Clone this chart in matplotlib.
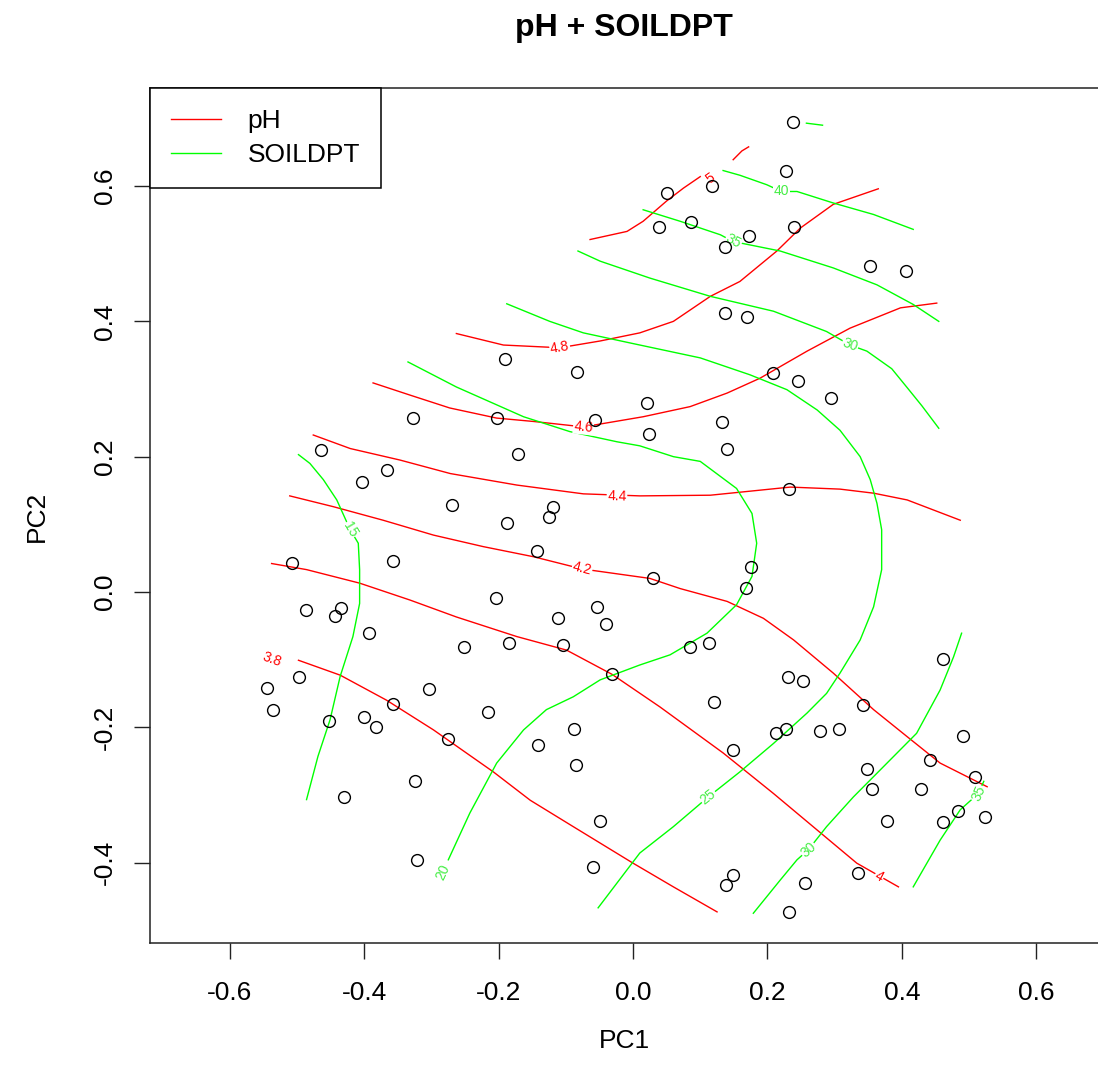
import numpy as np
import matplotlib
matplotlib.use("Agg")
import matplotlib.pyplot as plt
from matplotlib.lines import Line2D

plt.rcParams['font.family'] = ['Liberation Sans', 'DejaVu Sans']

# site scores (PC1, PC2)
pc1 = [0.238, 0.227, 0.117, 0.051, 0.039, 0.086, 0.173, 0.137, 0.239, 0.352, 0.406, 0.137, 0.170, 0.208, 0.245, 0.294,
       -0.190, -0.083, 0.020, -0.328, -0.203, -0.056, 0.023, 0.133, 0.140, -0.464,
       -0.172, -0.366, -0.404, -0.269, -0.119, -0.125, -0.188, 0.232, -0.143, -0.507,
       -0.357, 0.030, 0.176, 0.168, -0.487, -0.435, -0.443, -0.204, -0.054, -0.111,
       -0.040, -0.393, -0.252, -0.185, -0.105, 0.084, 0.113, -0.031, 0.461,
       -0.545, -0.497, -0.536, -0.452, -0.400, -0.382, -0.357, -0.303, -0.276, -0.324,
       -0.430, -0.321, -0.216, -0.088, -0.141, -0.085, -0.049, -0.059,
       0.230, 0.253, 0.120, 0.342, 0.212, 0.227, 0.278, 0.307, 0.491, 0.149,
       0.442, 0.348, 0.509, 0.355, 0.429, 0.483, 0.524, 0.461, 0.378, 0.335,
       0.148, 0.139, 0.256, 0.232]
pc2 = [0.694, 0.623, 0.600, 0.590, 0.539, 0.547, 0.526, 0.510, 0.539, 0.482, 0.475, 0.413, 0.407, 0.324, 0.312, 0.286,
       0.345, 0.325, 0.280, 0.257, 0.257, 0.254, 0.234, 0.251, 0.212, 0.210,
       0.204, 0.180, 0.162, 0.129, 0.125, 0.111, 0.102, 0.152, 0.061, 0.043,
       0.045, 0.020, 0.037, 0.006, -0.027, -0.024, -0.036, -0.009, -0.022, -0.039,
       -0.047, -0.060, -0.082, -0.075, -0.078, -0.081, -0.076, -0.122, -0.099,
       -0.142, -0.126, -0.175, -0.191, -0.185, -0.200, -0.165, -0.144, -0.218, -0.280,
       -0.303, -0.397, -0.177, -0.203, -0.226, -0.256, -0.338, -0.407,
       -0.126, -0.132, -0.163, -0.167, -0.208, -0.203, -0.205, -0.202, -0.213, -0.233,
       -0.248, -0.262, -0.273, -0.292, -0.292, -0.324, -0.333, -0.340, -0.339, -0.416,
       -0.419, -0.433, -0.431, -0.473]

# fitted pH surface, contour lines
ph38 = [(-0.498, -0.101), (-0.436, -0.123), (-0.367, -0.160), (-0.297, -0.204), (-0.208, -0.266),
        (-0.153, -0.308), (-0.089, -0.347), (0.000, -0.401), (0.060, -0.436), (0.125, -0.473)]
ph40 = [(-0.538, 0.042), (-0.486, 0.033), (-0.407, 0.013), (-0.332, -0.012), (-0.263, -0.037),
        (-0.173, -0.066), (-0.099, -0.086), (-0.031, -0.122), (0.040, -0.170), (0.134, -0.238),
        (0.209, -0.298), (0.274, -0.352), (0.333, -0.401), (0.395, -0.436)]
ph42 = [(-0.511, 0.142), (-0.446, 0.126), (-0.372, 0.106), (-0.297, 0.084), (-0.223, 0.067),
        (-0.148, 0.052), (-0.076, 0.034), (0.025, 0.020), (0.070, 0.005), (0.140, -0.014),
        (0.194, -0.039), (0.239, -0.071), (0.298, -0.120), (0.358, -0.174), (0.408, -0.214),
        (0.457, -0.253), (0.527, -0.288)]
ph44 = [(-0.476, 0.232), (-0.421, 0.212), (-0.347, 0.195), (-0.272, 0.175), (-0.173, 0.158),
        (-0.074, 0.145), (0.010, 0.142), (0.115, 0.143), (0.234, 0.155), (0.308, 0.152),
        (0.358, 0.146), (0.408, 0.136), (0.487, 0.106)]
ph46 = [(-0.387, 0.309), (-0.332, 0.291), (-0.273, 0.272), (-0.203, 0.257), (-0.148, 0.252),
        (-0.074, 0.244), (0.015, 0.259), (0.085, 0.274), (0.140, 0.294), (0.189, 0.316),
        (0.259, 0.356), (0.323, 0.390), (0.398, 0.420), (0.452, 0.427)]
ph48 = [(-0.263, 0.382), (-0.193, 0.365), (-0.109, 0.361), (-0.049, 0.371), (0.010, 0.383),
        (0.060, 0.400), (0.115, 0.437), (0.159, 0.459), (0.214, 0.504), (0.249, 0.538),
        (0.298, 0.573), (0.365, 0.596)]
ph50 = [(-0.064, 0.521), (-0.009, 0.533), (0.015, 0.548), (0.050, 0.578), (0.075, 0.597), (0.100, 0.614)]
ph52 = [(0.149, 0.639), (0.162, 0.652), (0.172, 0.658)]
ph_lines = [ph38, ph40, ph42, ph44, ph46, ph48, ph50, ph52]
ph_labels = [("3.8", -0.538, -0.100), ("4", 0.366, -0.421), ("4.2", -0.076, 0.034),
             ("4.4", -0.024, 0.141), ("4.6", -0.074, 0.244), ("4.8", -0.109, 0.361),
             ("5", 0.115, 0.611)]

# fitted SOILDPT surface
sd15 = [(-0.498, 0.203), (-0.481, 0.190), (-0.461, 0.166), (-0.441, 0.136), (-0.421, 0.092),
        (-0.409, 0.072), (-0.407, 0.033), (-0.407, -0.017), (-0.417, -0.066), (-0.436, -0.125),
        (-0.451, -0.189), (-0.469, -0.243), (-0.486, -0.307)]
sd20 = [(-0.335, 0.340), (-0.263, 0.303), (-0.163, 0.259), (-0.094, 0.237), (-0.024, 0.222),
        (0.010, 0.216), (0.060, 0.200), (0.100, 0.193), (0.154, 0.153), (0.177, 0.116),
        (0.184, 0.072), (0.177, 0.023), (0.154, -0.019), (0.110, -0.061), (0.055, -0.093),
        (0.010, -0.108), (-0.049, -0.130), (-0.089, -0.155), (-0.129, -0.174), (-0.163, -0.204),
        (-0.203, -0.253), (-0.243, -0.327), (-0.275, -0.396)]
sd25 = [(-0.188, 0.426), (-0.124, 0.400), (-0.074, 0.383), (-0.004, 0.368), (0.100, 0.346),
        (0.174, 0.321), (0.229, 0.299), (0.274, 0.269), (0.308, 0.239), (0.338, 0.200),
        (0.353, 0.166), (0.363, 0.131), (0.370, 0.092), (0.370, 0.033), (0.358, -0.022),
        (0.338, -0.071), (0.308, -0.120), (0.288, -0.150), (0.259, -0.179), (0.209, -0.224),
        (0.159, -0.266), (0.112, -0.303), (0.060, -0.347), (0.010, -0.386), (-0.052, -0.467)]
sd30a = [(-0.082, 0.504), (-0.049, 0.489), (0.025, 0.464), (0.115, 0.437), (0.209, 0.415),
         (0.288, 0.385), (0.323, 0.365), (0.348, 0.356), (0.385, 0.330), (0.408, 0.302),
         (0.430, 0.275), (0.455, 0.242)]
sd30b = [(0.489, -0.061), (0.477, -0.096), (0.457, -0.145), (0.422, -0.209), (0.388, -0.243),
         (0.358, -0.273), (0.328, -0.303), (0.288, -0.347), (0.261, -0.381), (0.244, -0.396),
         (0.219, -0.426), (0.179, -0.475)]
sd35a = [(0.015, 0.565), (0.070, 0.548), (0.130, 0.528), (0.149, 0.518), (0.219, 0.504),
         (0.298, 0.479), (0.363, 0.454), (0.417, 0.425), (0.455, 0.400)]
sd35b = [(0.522, -0.280), (0.514, -0.298), (0.487, -0.322), (0.457, -0.367), (0.417, -0.436)]
sd40 = [(0.134, 0.623), (0.159, 0.616), (0.199, 0.602), (0.221, 0.592), (0.244, 0.592),
        (0.298, 0.575), (0.358, 0.558), (0.417, 0.536)]
sd45 = [(0.258, 0.693), (0.282, 0.690)]
sd_lines = [sd15, sd20, sd25, sd30a, sd30b, sd35a, sd35b, sd40, sd45]
sd_labels = [("15", -0.421, 0.092), ("20", -0.283, -0.414), ("25", 0.112, -0.303),
             ("30", 0.323, 0.365), ("30", 0.261, -0.381), ("35", 0.149, 0.518),
             ("35", 0.514, -0.298), ("40", 0.221, 0.592)]

RED = '#ff0000'
GREEN = '#00ff00'

fig = plt.figure(figsize=(10.98, 10.74), dpi=100)
ax = fig.add_axes([150 / 1098, 1 - 943 / 1074, 948 / 1098, 855 / 1074])
ax.set_xlim(-0.719, 0.692)
ax.set_ylim(-0.519, 0.745)

for line in ph_lines:
    xy = np.array(line)
    ax.plot(xy[:, 0], xy[:, 1], color=RED, lw=1.0, zorder=2)
for line in sd_lines:
    xy = np.array(line)
    ax.plot(xy[:, 0], xy[:, 1], color=GREEN, lw=1.0, zorder=2)


def label_angle(lines, x, y):
    # angle of the nearest contour segment, in screen space
    best = None
    for line in lines:
        pts = ax.transData.transform(np.array(line))
        p = ax.transData.transform((x, y))
        for a, b in zip(pts[:-1], pts[1:]):
            d = np.hypot(*((a + b) / 2 - p))
            if best is None or d < best[0]:
                best = (d, b - a)
    ang = np.degrees(np.arctan2(best[1][1], best[1][0]))
    if ang > 90:
        ang -= 180
    if ang < -90:
        ang += 180
    return ang


for txt, x, y in ph_labels:
    ax.text(x, y, txt, color=RED, fontsize=10, ha='center', va='center',
            rotation=label_angle(ph_lines, x, y), rotation_mode='anchor', zorder=3,
            bbox=dict(facecolor='white', edgecolor='none', pad=0.5))
for txt, x, y in sd_labels:
    ax.text(x, y, txt, color='#44ee44', fontsize=10, ha='center', va='center',
            rotation=label_angle(sd_lines, x, y), rotation_mode='anchor', zorder=3,
            bbox=dict(facecolor='white', edgecolor='none', pad=0.5))

ax.plot(pc1, pc2, linestyle='none', marker='o', markersize=8.5, markerfacecolor='none',
        markeredgecolor='black', markeredgewidth=1.0, zorder=4)

ticks = [-0.6, -0.4, -0.2, 0.0, 0.2, 0.4, 0.6]
ax.set_xticks(ticks)
ax.set_xticklabels(['%.1f' % t for t in ticks])
yt = [-0.4, -0.2, 0.0, 0.2, 0.4, 0.6]
ax.set_yticks(yt)
ax.set_yticklabels(['%.1f' % t for t in yt], rotation=90, va='center')
ax.tick_params(length=11.5, width=1.0, labelsize=19, color='#222222')
ax.tick_params(axis='x', pad=16)
ax.tick_params(axis='y', pad=12)
for s in ['left', 'bottom', 'top']:
    ax.spines[s].set_linewidth(1.1)
    ax.spines[s].set_color('#222222')
ax.spines['right'].set_visible(False)

handles = [Line2D([], [], color=RED, lw=1.0), Line2D([], [], color=GREEN, lw=1.0)]
leg = ax.legend(handles, ['pH', 'SOILDPT'], loc='upper left', fontsize=19,
                borderaxespad=0, fancybox=False, framealpha=1, edgecolor='black',
                borderpad=0.8, handlelength=1.9, handletextpad=1.0, labelspacing=0.37)
leg.get_frame().set_linewidth(1.1)

fig.text(624 / 1098, 1 - 28 / 1074, 'pH + SOILDPT', fontsize=23, fontweight='bold',
         ha='center', va='center')
fig.text(624 / 1098, 1 - 1041 / 1074, 'PC1', fontsize=19, ha='center', va='center')
fig.text(37 / 1098, 1 - 516 / 1074, 'PC2', fontsize=19, ha='center', va='center', rotation=90)

fig.savefig('out.png', dpi=100)
